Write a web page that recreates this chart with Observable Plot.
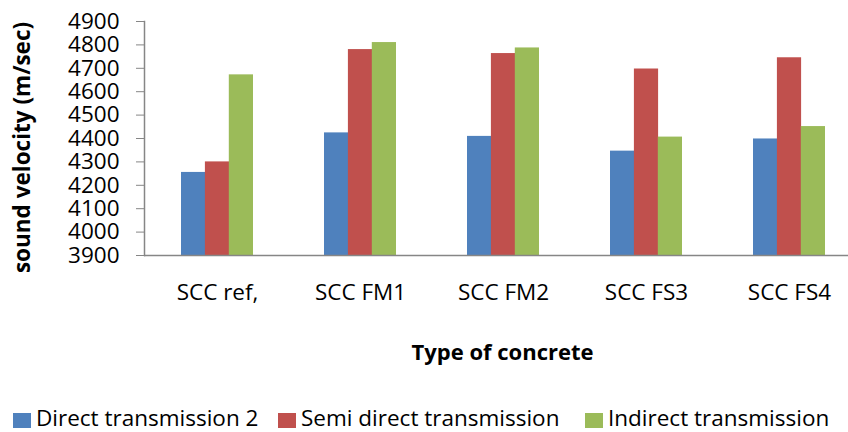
<!DOCTYPE html>
<html>
<head>
<meta charset="utf-8">
<script src="https://cdn.jsdelivr.net/npm/d3@7"></script>
<script src="https://cdn.jsdelivr.net/npm/@observablehq/plot@0.6"></script>
<style>
  body { margin: 0; background: #fff; font-family: "Open Sans", sans-serif; }
  #chart { width: 848px; height: 432px; overflow: hidden; }
  .legend { position: relative; height: 37px; font-size: 22.5px; color: #000; }
  .legend .item { position: absolute; top: 10px; line-height: 26px; white-space: nowrap; }
  .legend .sw { display: inline-block; width: 18px; height: 15px; margin-right: 5px; vertical-align: -2px; }
</style>
</head>
<body>
<div id="chart"></div>
<script>
// Ultrasonic pulse velocity per concrete mix, three transducer arrangements
const categories = ["SCC ref,", "SCC FM1", "SCC FM2", "SCC FS3", "SCC FS4"];
const series = ["Direct transmission 2", "Semi direct transmission", "Indirect transmission"];
const colors = ["#4F81BD", "#C0504D", "#9BBB59"];
const direct = [4255, 4424, 4409, 4346, 4398];
const semiDirect = [4300, 4780, 4763, 4697, 4745];
const indirect = [4672, 4810, 4787, 4406, 4451];
const yTicks = [3900, 4000, 4100, 4200, 4300, 4400, 4500, 4600, 4700, 4800, 4900];
const xTitle = "Type of concrete";
const yTitle = "sound velocity (m/sec)";

const seriesValues = [direct, semiDirect, indirect];
const rows = series.flatMap((s, si) =>
  categories.map((c, ci) => ({category: c, series: s, value: seriesValues[si][ci]}))
);

const width = 848, height = 395;
const marginLeft = 144, marginTop = 21, marginBottom = 140;
const xRange = [marginLeft, 861];
const paddingInner = 0.5, paddingOuter = 0.25;
const step = (xRange[1] - xRange[0]) / (categories.length - paddingInner + 2 * paddingOuter);
const groupWidth = step * (1 - paddingInner);
const barWidth = groupWidth / series.length;
const base = yTicks[0];

// one bar mark per series, each occupying its own slice of the category band
const bars = series.map((s, i) =>
  Plot.barY(rows.filter(r => r.series === s), {
    x: "category",
    y1: base,
    y2: "value",
    fill: colors[i],
    insetLeft: i * barWidth,
    insetRight: (series.length - 1 - i) * barWidth
  })
);

const axisGray = "#868686";

const chart = Plot.plot({
  width, height,
  marginLeft, marginRight: 0, marginTop, marginBottom,
  style: {fontFamily: '"Open Sans", sans-serif', fontSize: "22.5px", color: "#000", background: "#fff"},
  x: {domain: categories, range: xRange, paddingInner, paddingOuter, label: null},
  y: {domain: [yTicks[0], yTicks[yTicks.length - 1]], label: null},
  marks: [
    ...bars,
    Plot.ruleY([base], {stroke: axisGray, strokeWidth: 1.5}),
    Plot.frame({anchor: "left", stroke: axisGray, strokeWidth: 1.5}),
    Plot.axisY({ticks: yTicks, tickSize: 8, tickPadding: 17, tickFormat: d => String(d), stroke: axisGray, label: null}),
    Plot.axisX({tickSize: 0, tickPadding: 29, label: null}),
    Plot.text([xTitle], {frameAnchor: "bottom", lineAnchor: "middle", textAnchor: "middle", dx: 6, dy: 97, fontWeight: "bold", fontSize: 22}),
    Plot.text([yTitle], {frameAnchor: "left", lineAnchor: "middle", textAnchor: "middle", rotate: -90, dx: -122, dy: 9, fontWeight: "bold", fontSize: 22.5})
  ]
});

const root = document.getElementById("chart");
root.appendChild(chart);

// legend below the plot, built from the series names and colours
const legendLeft = [13, 278, 585];
const legend = document.createElement("div");
legend.className = "legend";
series.forEach((s, i) => {
  const item = document.createElement("span");
  item.className = "item";
  item.style.left = legendLeft[i] + "px";
  const sw = document.createElement("span");
  sw.className = "sw";
  sw.style.background = colors[i];
  item.appendChild(sw);
  item.appendChild(document.createTextNode(s));
  legend.appendChild(item);
});
root.appendChild(legend);
</script>
</body>
</html>
